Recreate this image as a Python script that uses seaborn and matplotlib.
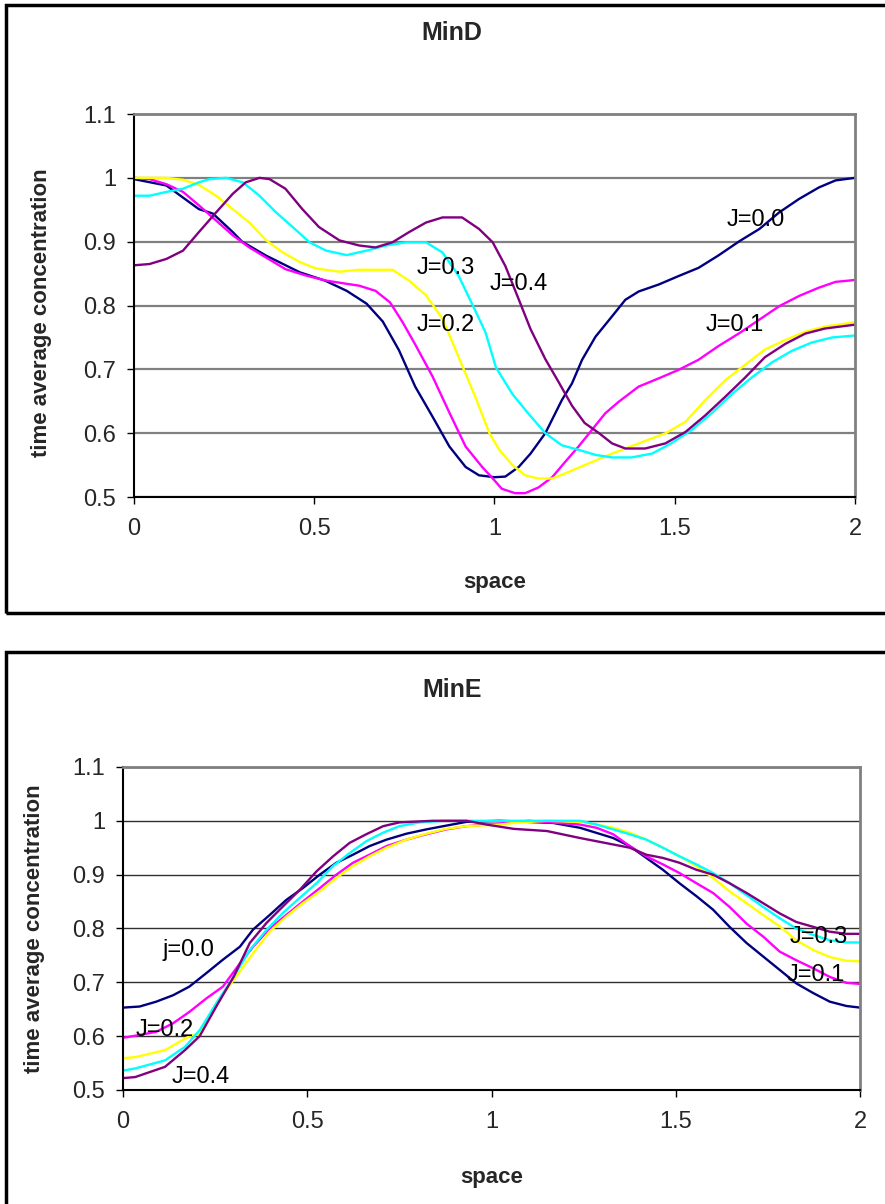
import matplotlib

matplotlib.use("Agg")

import matplotlib.pyplot as plt
import seaborn as sns
from matplotlib.patches import Rectangle

# ---- data ----
COLORS = ["#000080", "#FF00FF", "#FFFF00", "#00FFFF", "#800080"]  # J=0.0 .. J=0.4

X_TICKS = [0, 0.5, 1, 1.5, 2]
X_TICK_LABELS = ["0", "0.5", "1", "1.5", "2"]
Y_TICKS = [0.5, 0.6, 0.7, 0.8, 0.9, 1.0, 1.1]
Y_TICK_LABELS = ["0.5", "0.6", "0.7", "0.8", "0.9", "1", "1.1"]

# MinD panel
mind_x_j00 = [0, 0.09, 0.18, 0.219, 0.274, 0.30, 0.367, 0.46, 0.53, 0.59, 0.645, 0.69, 0.735,
              0.78, 0.828, 0.875, 0.92, 0.957, 1.0, 1.03, 1.067, 1.1, 1.141, 1.187, 1.215,
              1.243, 1.28, 1.326, 1.363, 1.4, 1.456, 1.51, 1.566, 1.62, 1.68, 1.735, 1.79,
              1.845, 1.9, 1.946, 2.0]
mind_y_j00 = [0.998, 0.988, 0.951, 0.944, 0.915, 0.900, 0.878, 0.852, 0.839, 0.823, 0.803, 0.775,
              0.730, 0.673, 0.626, 0.579, 0.547, 0.534, 0.531, 0.532, 0.547, 0.568, 0.600, 0.652,
              0.678, 0.715, 0.751, 0.783, 0.809, 0.822, 0.833, 0.846, 0.859, 0.878, 0.901,
              0.920, 0.946, 0.967, 0.985, 0.996, 1.0]

mind_x_j01 = [0, 0.043, 0.09, 0.136, 0.18, 0.228, 0.274, 0.32, 0.367, 0.42, 0.477, 0.533, 0.59,
              0.625, 0.67, 0.71, 0.745, 0.78, 0.828, 0.875, 0.92, 0.966, 1.0, 1.02, 1.057, 1.085,
              1.122, 1.16, 1.196, 1.233, 1.27, 1.307, 1.344, 1.4, 1.456, 1.51, 1.566, 1.62,
              1.68, 1.735, 1.79, 1.845, 1.9, 1.946, 2.0]
mind_y_j01 = [1.0, 0.998, 0.990, 0.978, 0.957, 0.933, 0.910, 0.891, 0.875, 0.857, 0.847, 0.839,
              0.834, 0.831, 0.823, 0.805, 0.774, 0.739, 0.689, 0.632, 0.579, 0.547, 0.526, 0.513,
              0.506, 0.506, 0.515, 0.531, 0.555, 0.579, 0.605, 0.631, 0.649, 0.673, 0.686,
              0.699, 0.715, 0.736, 0.757, 0.778, 0.799, 0.815, 0.828, 0.837, 0.840]

mind_x_j02 = [0, 0.09, 0.136, 0.18, 0.228, 0.274, 0.32, 0.367, 0.413, 0.46, 0.505, 0.57, 0.625,
              0.717, 0.763, 0.81, 0.856, 0.90, 0.948, 0.986, 1.013, 1.05, 1.085, 1.122, 1.16,
              1.196, 1.25, 1.326, 1.4, 1.475, 1.53, 1.585, 1.64, 1.695, 1.75, 1.807, 1.862,
              1.917, 2.0]
mind_y_j02 = [1.0, 1.0, 0.997, 0.989, 0.972, 0.951, 0.930, 0.902, 0.883, 0.868, 0.858, 0.853,
              0.856, 0.856, 0.839, 0.816, 0.779, 0.720, 0.655, 0.600, 0.574, 0.550, 0.534, 0.529,
              0.529, 0.537, 0.550, 0.568, 0.584, 0.600, 0.618, 0.652, 0.683, 0.707, 0.731,
              0.746, 0.759, 0.767, 0.774]

mind_x_j03 = [0, 0.043, 0.09, 0.136, 0.18, 0.21, 0.255, 0.302, 0.348, 0.394, 0.44, 0.487, 0.533,
              0.59, 0.645, 0.70, 0.755, 0.81, 0.856, 0.90, 0.94, 0.975, 1.004, 1.05, 1.095,
              1.141, 1.187, 1.233, 1.28, 1.326, 1.38, 1.437, 1.49, 1.547, 1.602, 1.658, 1.713,
              1.77, 1.825, 1.88, 1.937, 2.0]
mind_y_j03 = [0.972, 0.972, 0.978, 0.983, 0.993, 0.998, 1.0, 0.993, 0.972, 0.946, 0.923, 0.899,
              0.886, 0.879, 0.886, 0.894, 0.899, 0.899, 0.883, 0.847, 0.800, 0.758, 0.703, 0.661,
              0.630, 0.600, 0.581, 0.574, 0.566, 0.562, 0.562, 0.568, 0.584, 0.605, 0.631,
              0.661, 0.687, 0.711, 0.729, 0.742, 0.750, 0.753]

mind_x_j04 = [0, 0.043, 0.09, 0.136, 0.18, 0.228, 0.274, 0.31, 0.348, 0.376, 0.42, 0.467, 0.513,
              0.57, 0.625, 0.67, 0.717, 0.763, 0.81, 0.856, 0.91, 0.957, 0.995, 1.03, 1.067, 1.1,
              1.141, 1.178, 1.215, 1.25, 1.29, 1.326, 1.363, 1.418, 1.474, 1.53, 1.585, 1.64,
              1.695, 1.75, 1.807, 1.862, 1.917, 2.0]
mind_y_j04 = [0.863, 0.865, 0.873, 0.886, 0.915, 0.946, 0.975, 0.993, 1.0, 0.998, 0.983, 0.951,
              0.923, 0.902, 0.894, 0.891, 0.899, 0.915, 0.930, 0.938, 0.938, 0.920, 0.899, 0.862,
              0.810, 0.763, 0.716, 0.680, 0.643, 0.616, 0.600, 0.584, 0.576, 0.576, 0.584,
              0.602, 0.628, 0.657, 0.687, 0.719, 0.740, 0.756, 0.764, 0.770]

# MinE panel
mine_x_j00 = [0, 0.045, 0.09, 0.136, 0.18, 0.226, 0.271, 0.317, 0.353, 0.398, 0.443, 0.488, 0.534,
              0.579, 0.624, 0.669, 0.715, 0.769, 0.823, 0.877, 0.932, 1.022, 1.167, 1.24, 1.33,
              1.375, 1.42, 1.465, 1.51, 1.556, 1.601, 1.646, 1.692, 1.737, 1.782, 1.827, 1.873,
              1.918, 1.963, 2.0]
mine_y_j00 = [0.653, 0.655, 0.664, 0.676, 0.692, 0.717, 0.742, 0.766, 0.798, 0.825, 0.853, 0.875,
              0.900, 0.922, 0.937, 0.953, 0.965, 0.976, 0.984, 0.991, 0.998, 1.0, 0.996, 0.987,
              0.968, 0.953, 0.931, 0.909, 0.884, 0.860, 0.835, 0.803, 0.773, 0.748, 0.723,
              0.698, 0.680, 0.664, 0.656, 0.653]

mine_x_j01 = [0, 0.027, 0.09, 0.136, 0.18, 0.226, 0.271, 0.317, 0.353, 0.398, 0.443, 0.488, 0.534,
              0.579, 0.624, 0.669, 0.715, 0.769, 0.823, 0.877, 0.932, 1.022, 1.10, 1.24, 1.285,
              1.33, 1.375, 1.42, 1.465, 1.51, 1.556, 1.601, 1.646, 1.692, 1.737, 1.782, 1.827,
              1.873, 1.918, 1.963, 2.0]
mine_y_j01 = [0.597, 0.600, 0.608, 0.624, 0.645, 0.670, 0.692, 0.735, 0.766, 0.800, 0.825, 0.850,
              0.875, 0.900, 0.922, 0.937, 0.953, 0.965, 0.975, 0.984, 0.990, 0.995, 1.0, 0.993,
              0.987, 0.975, 0.953, 0.934, 0.919, 0.903, 0.884, 0.866, 0.840, 0.809, 0.785,
              0.757, 0.741, 0.726, 0.710, 0.699, 0.697]

mine_x_j02 = [0, 0.033, 0.114, 0.18, 0.208, 0.253, 0.30, 0.353, 0.398, 0.443, 0.488, 0.534, 0.579,
              0.624, 0.669, 0.715, 0.769, 0.823, 0.877, 0.932, 1.022, 1.06, 1.15, 1.24, 1.285,
              1.33, 1.375, 1.42, 1.465, 1.51, 1.556, 1.601, 1.646, 1.692, 1.737, 1.782, 1.827,
              1.873, 1.918, 1.963, 2.0]
mine_y_j02 = [0.559, 0.561, 0.574, 0.600, 0.605, 0.661, 0.704, 0.754, 0.794, 0.822, 0.847, 0.869,
              0.894, 0.916, 0.934, 0.950, 0.965, 0.976, 0.985, 0.990, 0.993, 0.996, 1.0, 0.998,
              0.993, 0.987, 0.978, 0.965, 0.950, 0.934, 0.916, 0.894, 0.869, 0.847, 0.825,
              0.804, 0.778, 0.760, 0.747, 0.740, 0.739]

mine_x_j03 = [0, 0.033, 0.114, 0.168, 0.208, 0.253, 0.30, 0.344, 0.389, 0.434, 0.48, 0.525, 0.57,
              0.615, 0.66, 0.706, 0.75, 0.805, 0.868, 1.24, 1.285, 1.33, 1.375, 1.42, 1.465,
              1.51, 1.556, 1.601, 1.646, 1.692, 1.737, 1.782, 1.827, 1.873, 1.918, 1.963, 2.0]
mine_y_j03 = [0.536, 0.540, 0.555, 0.580, 0.611, 0.661, 0.710, 0.760, 0.797, 0.829, 0.857, 0.884,
              0.916, 0.940, 0.962, 0.978, 0.990, 0.997, 1.0, 1.0, 0.993, 0.984, 0.975, 0.965,
              0.950, 0.934, 0.919, 0.903, 0.884, 0.862, 0.840, 0.819, 0.800, 0.788, 0.778,
              0.774, 0.774]

mine_x_j04 = [0, 0.033, 0.114, 0.168, 0.208, 0.253, 0.30, 0.344, 0.389, 0.434, 0.48, 0.525, 0.57,
              0.615, 0.66, 0.706, 0.75, 0.84, 0.932, 0.986, 1.014, 1.06, 1.15, 1.24, 1.33, 1.375,
              1.42, 1.465, 1.51, 1.556, 1.601, 1.646, 1.692, 1.737, 1.782, 1.827, 1.873, 1.918,
              1.963, 2.0]
mine_y_j04 = [0.522, 0.524, 0.543, 0.574, 0.600, 0.655, 0.710, 0.773, 0.810, 0.841, 0.872, 0.906,
              0.934, 0.959, 0.975, 0.990, 0.997, 1.0, 1.0, 0.993, 0.990, 0.985, 0.981, 0.968,
              0.956, 0.950, 0.937, 0.931, 0.922, 0.909, 0.900, 0.884, 0.866, 0.847, 0.828,
              0.812, 0.803, 0.794, 0.790, 0.790]

MIND_SERIES = [(mind_x_j00, mind_y_j00), (mind_x_j01, mind_y_j01), (mind_x_j02, mind_y_j02),
               (mind_x_j03, mind_y_j03), (mind_x_j04, mind_y_j04)]
MINE_SERIES = [(mine_x_j00, mine_y_j00), (mine_x_j01, mine_y_j01), (mine_x_j02, mine_y_j02),
               (mine_x_j03, mine_y_j03), (mine_x_j04, mine_y_j04)]

# curve labels: text, x, y (data coords)
MIND_LABELS = [("J=0.0", 1.643, 0.934), ("J=0.4", 0.986, 0.834), ("J=0.1", 1.587, 0.769),
               ("J=0.3", 0.784, 0.858), ("J=0.2", 0.784, 0.769)]
MINE_LABELS = [("j=0.0", 0.106, 0.760), ("J=0.2", 0.033, 0.611), ("J=0.4", 0.133, 0.524),
               ("J=0.3", 1.810, 0.784), ("J=0.1", 1.800, 0.714)]


def style_axes(ax, grid_color, grid_lw):
    ax.set_xlim(0, 2)
    ax.set_ylim(0.5, 1.1)
    ax.set_xticks(X_TICKS)
    ax.set_xticklabels(X_TICK_LABELS)
    ax.set_yticks(Y_TICKS)
    ax.set_yticklabels(Y_TICK_LABELS)
    ax.set_axisbelow(True)
    ax.grid(axis="y", color=grid_color, linewidth=grid_lw)
    ax.grid(axis="x", visible=False)
    ax.tick_params(axis="both", direction="out", length=5, width=1, color="black",
                   labelsize=17, left=True, bottom=True)
    ax.tick_params(axis="x", pad=10)
    ax.tick_params(axis="y", pad=8)
    for side in ("left", "bottom"):
        ax.spines[side].set_color("black")
        ax.spines[side].set_linewidth(1.5)
    for side in ("top", "right"):
        ax.spines[side].set_color("#808080")
        ax.spines[side].set_linewidth(2)
    ax.set_xlabel("space", fontsize=16, fontweight="bold")
    ax.set_ylabel("time average concentration", fontsize=16, fontweight="bold")


def draw_panel(ax, series, labels):
    for (xs, ys), color in zip(series, COLORS):
        sns.lineplot(x=xs, y=ys, ax=ax, color=color, linewidth=1.7,
                     estimator=None, sort=False, legend=False)
    for text, x, y in labels:
        ax.text(x, y, text, fontsize=17, ha="left", va="center", color="black")


def main() -> None:
    sns.set_theme(style="white")
    plt.rcParams["font.family"] = ["Liberation Sans", "DejaVu Sans"]

    fig = plt.figure(figsize=(8.85, 12.04), dpi=100)

    # outer chart frames (right and bottom run off the picture)
    fig.add_artist(Rectangle((0.0068, 0.4909), 1.2, 0.5049, transform=fig.transFigure,
                             fill=False, edgecolor="black", linewidth=2.5))
    fig.add_artist(Rectangle((0.0068, -0.2), 1.2, 0.6585, transform=fig.transFigure,
                             fill=False, edgecolor="black", linewidth=2.5))

    ax_d = fig.add_axes([0.1514, 0.5872, 0.8147, 0.3181])
    ax_e = fig.add_axes([0.1390, 0.0947, 0.8328, 0.2683])

    draw_panel(ax_d, MIND_SERIES, MIND_LABELS)
    draw_panel(ax_e, MINE_SERIES, MINE_LABELS)

    style_axes(ax_d, "#808080", 1.6)
    style_axes(ax_e, "#303030", 1.0)

    ax_d.yaxis.set_label_coords(-0.114, 0.48)
    ax_d.xaxis.set_label_coords(0.5, -0.196)
    ax_e.yaxis.set_label_coords(-0.106, 0.5)
    ax_e.xaxis.set_label_coords(0.5, -0.238)

    fig.text(0.511, 0.9726, "MinD", fontsize=18, fontweight="bold", ha="center", va="center")
    fig.text(0.511, 0.4269, "MinE", fontsize=18, fontweight="bold", ha="center", va="center")

    fig.savefig("out.png", dpi=100, facecolor="white")
    plt.close(fig)


if __name__ == "__main__":
    main()
